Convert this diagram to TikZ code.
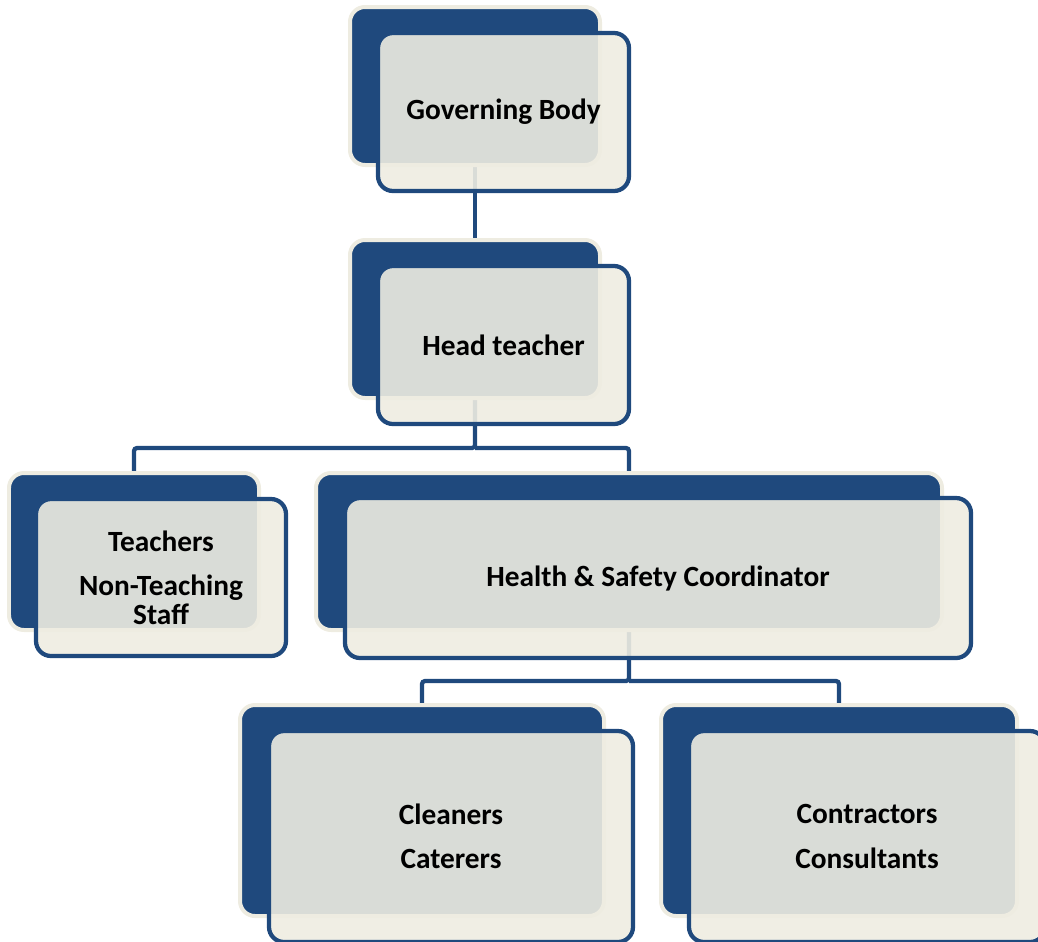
\documentclass[tikz,border=0pt]{standalone}
\usepackage{fontspec}
\setmainfont{Carlito}
\definecolor{dblue}{HTML}{1F497D}
\definecolor{beige}{HTML}{EEECE1}
\pgfdeclarelayer{bg}
\pgfsetlayers{bg,main}
\begin{document}
\begin{tikzpicture}[x=0.02cm,y=-0.02cm,
 sz/.style 2 args={minimum width=#1*0.02cm, minimum height=#2*0.02cm},
 backbox/.style={draw=beige, fill=dblue, line width=0.08cm, rounded corners=0.3cm, inner sep=0pt},
 frontbox/.style={draw=dblue, fill=beige, fill opacity=0.9, draw opacity=1, text opacity=1, line width=0.085cm, rounded corners=0.3cm, inner sep=0pt, align=center, font=\fontsize{16.7}{16.6}\selectfont\bfseries},
 conn/.style={draw=dblue, line width=0.085cm, rounded corners=0.06cm}]
\useasboundingbox (0,0) rectangle (1038,941);
\clip (0,0) rectangle (1038,941);
% level 1
\node[backbox, sz={250}{158}] (b1) at (475,86) {};
\node[frontbox, sz={251}{158}] (f1) at (503.5,112) {Governing Body};
% level 2
\node[backbox, sz={250}{158}] (b2) at (475,319) {};
\node[frontbox, sz={251}{158}] (f2) at (503.5,345) {Head teacher};
% level 3
\node[backbox, sz={250}{157}] (b3) at (134,551.5) {};
\node[frontbox, sz={250}{157}] (f3) at (161,577.5) {Teachers\\[8.5pt]Non-Teaching\\Staff};
\node[backbox, sz={626}{157}] (b4) at (629,551.5) {};
\node[frontbox, sz={626}{160}] (f4) at (658,578) {Health \& Safety Coordinator};
% level 4
\node[backbox, sz={364}{211}] (b5) at (422,810.5) {};
\node[frontbox, sz={364}{211}] (f5) at (451,836.5) {Cleaners\\[8.5pt]Caterers};
\node[backbox, sz={356}{211}] (b6) at (839,810.5) {};
\node[frontbox, sz={356}{211}] (f6) at (867,836.5) {Contractors\\[8.5pt]Consultants};
% connectors
\coordinate (j1) at (475,448);
\coordinate (j2) at (629,681);
\begin{pgfonlayer}{bg}
\draw[conn] (b1.south) -- (b2.north);
\draw[conn] (b2.south) -- (j1) -| (b3.north);
\draw[conn] (j1) -| (b4.north);
\draw[conn] (b4.south) -- (j2) -| (b5.north);
\draw[conn] (j2) -| (b6.north);
\end{pgfonlayer}
\end{tikzpicture}
\end{document}
